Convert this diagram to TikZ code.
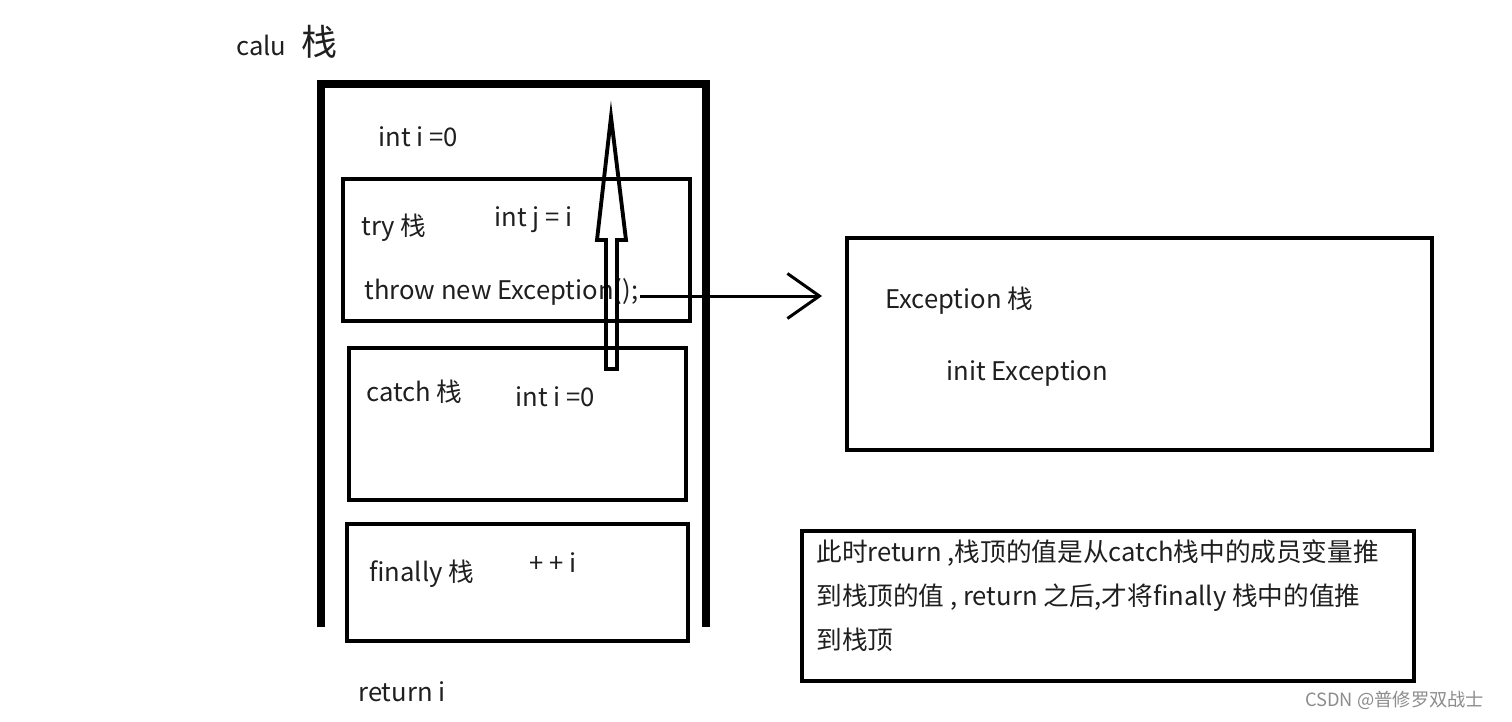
\documentclass[tikz,border=0pt]{standalone}
\usepackage{fontspec}
\setmainfont{Noto Sans CJK SC}
\usetikzlibrary{arrows.meta}

\begin{document}
\begin{tikzpicture}[x=0.02cm, y=-0.02cm,
  txt/.style={anchor=west, inner sep=0pt, text=black!88, font=\fontsize{14.6}{17}\selectfont},
  box/.style={draw, line width=2.2pt},
  wall/.style={line width=4pt}]
\useasboundingbox (0,0) rectangle (1512,721);
\draw[wall] (321,627) -- (321,84) -- (706,84) -- (706,627);
\draw[box] (343,179) rectangle (690,321);
\draw[box] (349,348) rectangle (686,500);
\draw[box] (347,524) rectangle (688,641);
\draw[box] (847,238) rectangle (1432,450);
\draw[box] (802,531) rectangle (1414,681);
\node[txt] (calu) at (236,42) {calu\hspace{0.6em}{\fontsize{20.5}{22}\selectfont 栈}};
\node[txt] (i0) at (378,137) {int i =0};
\node[txt] (try) at (361,228) {try 栈};
\node[txt] (j) at (494,220) {int j = i};
\node[txt] (throw) at (364,292) {throw new Exception();};
\node[txt] (catch) at (366,392) {catch 栈};
\node[txt] (i1) at (515,397) {int i =0};
\node[txt] (fin) at (369,574) {finally 栈};
\node[txt] (inc) at (529,563) {+ + i};
\node[txt] (ret) at (358,692) {return i};
\node[txt] (exc) at (885,301) {Exception 栈};
\node[txt] (init) at (946,373) {init Exception};
\node[txt] (note1) at (816,553) {此时return ,栈顶的值是从catch栈中的成员变量推};
\node[txt] (note2) at (816,598) {到栈顶的值 , return 之后,才将finally 栈中的值推};
\node[txt] (note3) at (816,640) {到栈顶};
\node[txt, text=black!45, font=\fontsize{10.4}{12}\selectfont] (mark) at (1305,700) {CSDN @普修罗双战士};
\draw[line width=2.2pt, line join=miter] (606,369) -- (606,240) -- (597,240) -- (611,117)
  -- (626,240) -- (617,240) -- (617,369) -- cycle;
\coordinate (tip) at (822,296);
\draw[line width=1.7pt, -{Straight Barb[length=0.64cm, width=0.9cm]}] (640,296) -- (tip);
\end{tikzpicture}
\end{document}
